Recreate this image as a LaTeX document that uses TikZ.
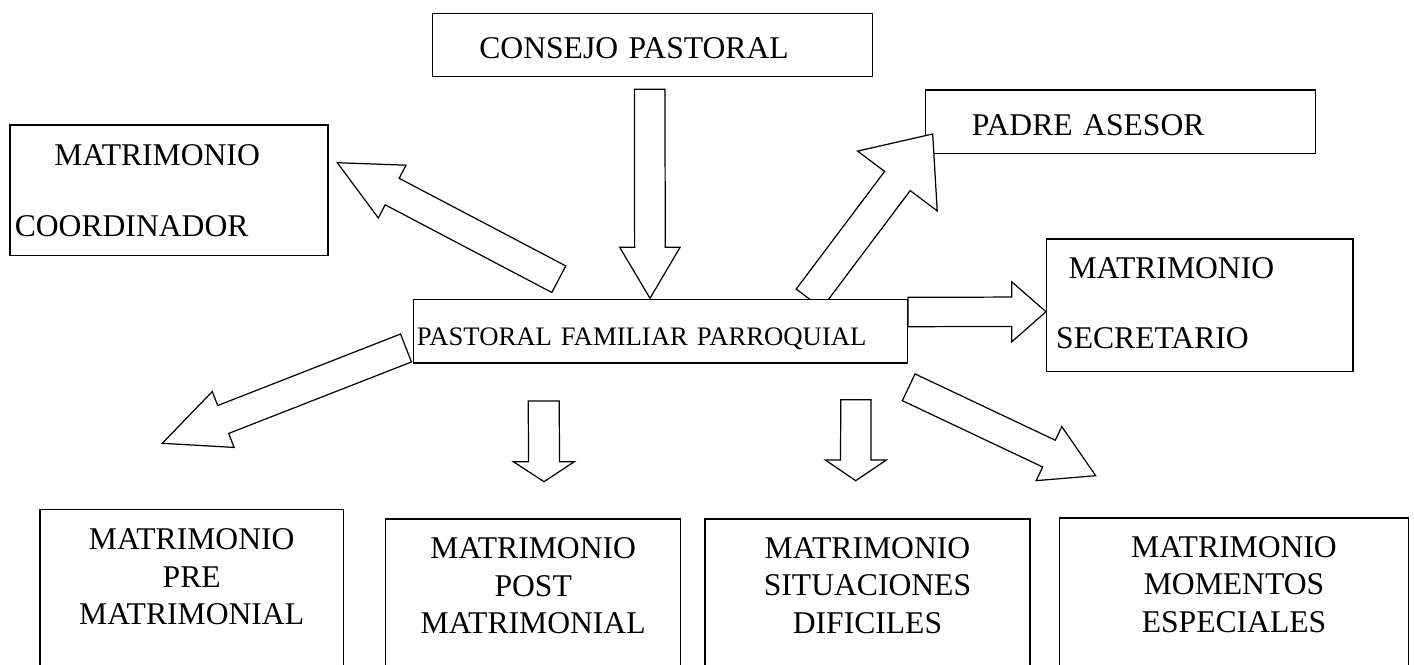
\documentclass[tikz,border=0pt]{standalone}
\usepackage{fontspec}
\setmainfont{Liberation Serif}
\usetikzlibrary{calc}

\tikzset{
  box/.style={draw, line width=0.8pt, fill=white, inner sep=0pt, anchor=north west,
    font=\fontsize{18}{21.3}\selectfont},
  twoline/.style={align=left, font=\fontsize{18}{40.2}\selectfont},
  fatarrow/.style={draw, line width=0.7pt, fill=white, line join=miter},
}

% block arrow: tail, tip, half shaft, half head, head length
\newcommand{\bigarrow}[5]{%
  \draw[fatarrow] ($(#1)!#3!90:(#2)$)
    -- ($(#2)!#5!(#1)!#3!-90:(#1)$)
    -- ($(#2)!#5!(#1)!#4!-90:(#1)$)
    -- (#2)
    -- ($(#2)!#5!(#1)!#4!90:(#1)$)
    -- ($(#2)!#5!(#1)!#3!90:(#1)$)
    -- ($(#1)!#3!-90:(#2)$) -- cycle;}

\begin{document}
\begin{tikzpicture}[x=0.02cm, y=-0.02cm]
\useasboundingbox (0,0) rectangle (1414,665);
\clip (0,0) rectangle (1414,665);

% Top row
\node[box, text width=8.8cm, text height=0.912cm, text depth=0.354cm, align=left]
  (cons) at (431.7,12.7) {\hspace*{0.94cm}CONSEJO PASTORAL};
\node[box, twoline, text width=6.36cm, text height=0.814cm, text depth=1.8cm]
  (coord) at (9.3,124.3) {\hspace*{0.886cm}MATRIMONIO\\\hspace*{0.096cm}COORDINADOR};
\node[box, text width=7.8cm, text height=0.914cm, text depth=0.354cm, align=left]
  (padre) at (925,89.3) {\hspace*{0.924cm}PADRE ASESOR};
\node[box, twoline, font=\fontsize{18}{39.8}\selectfont, text width=6.126cm, text height=0.8cm, text depth=1.854cm]
  (secr) at (1046,238.3) {\hspace*{0.438cm}MATRIMONIO\\\hspace*{0.19cm}SECRETARIO};

% Arrow ends
\coordinate (consout) at (649.7,89.3);   \coordinate (pfpin)   at (650,298.3);
\coordinate (coordout) at (558.8,279.2); \coordinate (coordin) at (337.3,162.7);
\coordinate (padreout) at (809,298.7);   \coordinate (padrein) at (932.7,134);
\coordinate (secrout) at (908,312);      \coordinate (secrin)  at (1046,311.7);
\coordinate (preout) at (406,348);       \coordinate (prein)   at (162.3,443.3);
\coordinate (postout) at (543.8,401);    \coordinate (postin)  at (544,481.7);
\coordinate (sitout) at (855.9,399.7);   \coordinate (sitin)   at (855.7,480.7);
\coordinate (momout) at (908.7,387.3);   \coordinate (momin)   at (1095.7,475.7);

\bigarrow{consout}{pfpin}{0.306cm}{0.604cm}{1.02cm}
\bigarrow{coordout}{coordin}{0.3cm}{0.596cm}{1.24cm}
\bigarrow{padreout}{padrein}{0.32cm}{0.996cm}{1.176cm}
\bigarrow{secrout}{secrin}{0.294cm}{0.6cm}{0.686cm}
\bigarrow{preout}{prein}{0.3cm}{0.6cm}{1.308cm}
\bigarrow{postout}{postin}{0.31cm}{0.61cm}{0.4cm}
\bigarrow{sitout}{sitin}{0.304cm}{0.61cm}{0.414cm}
\bigarrow{momout}{momin}{0.296cm}{0.598cm}{1.034cm}

% Centre
\node[box, font=\fontsize{15.2}{18}\selectfont, text width=9.88cm, text height=0.92cm, text depth=0.35cm, align=left]
  (pfp) at (412.7,299) {\hspace*{0.07cm}PASTORAL FAMILIAR PARROQUIAL};

% Bottom row
\node[box, align=center, text width=6.068cm, text height=0.806cm, text depth=3cm]
  (pre) at (39.3,509) {MATRIMONIO\\PRE\\MATRIMONIAL};
\node[box, align=center, text width=5.9cm, text height=0.8cm, text depth=3cm]
  (post) at (385,518.3) {MATRIMONIO\\POST\\MATRIMONIAL};
\node[box, align=center, text width=6.5cm, text height=0.784cm, text depth=3cm]
  (sit) at (704.3,518.5) {MATRIMONIO\\SITUACIONES\\DIFICILES};
\node[box, align=center, text width=6.974cm, text height=0.788cm, text depth=3cm]
  (mom) at (1059,517.3) {MATRIMONIO\\MOMENTOS\\ESPECIALES};
\end{tikzpicture}
\end{document}
